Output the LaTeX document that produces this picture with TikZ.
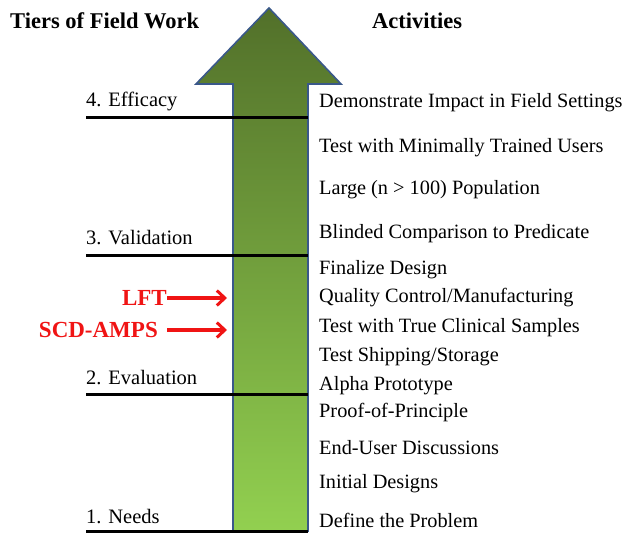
\documentclass[tikz,border=0pt]{standalone}
\usepackage{fontspec}
\setmainfont{Liberation Serif}
\usetikzlibrary{arrows.meta}
\definecolor{arrowtop}{RGB}{82,112,42}
\definecolor{arrowbot}{RGB}{146,208,80}
\definecolor{arrowrim}{RGB}{58,88,138}
\definecolor{tierred}{RGB}{240,20,20}
\tikzset{
	tier/.style={anchor=west, inner sep=0pt, font=\fontsize{20.5}{24}\selectfont},
	activity/.style={anchor=west, inner sep=0pt, font=\fontsize{20.3}{24}\selectfont},
	heading/.style={anchor=west, inner sep=0pt, font=\fontsize{22.5}{26}\selectfont\bfseries},
	study/.style={anchor=east, inner sep=0pt, text=tierred, font=\fontsize{23}{26}\selectfont\bfseries},
	tierline/.style={line width=3pt, black},
	studyarrow/.style={tierred, line width=3.4pt, -{Straight Barb[length=8pt, width=15pt, line width=3pt]}}
}
\begin{document}
\begin{tikzpicture}[x=1pt, y=-1pt]
				\useasboundingbox (0, 0) rectangle (631, 533);
				\fill [white] (0, 0) rectangle (631, 533);
				% big arrow
				\draw [arrowrim, line width=1.6pt, top color=arrowtop, bottom color=arrowbot]
					(233, 531) -- (233, 84) -- (196, 84) -- (269, 8) -- (341, 84) -- (308, 84) -- (308, 531) -- cycle;
				% headings
				\node [heading] (tiers) at (10, 21) {Tiers of Field Work};
				\node [heading] (acts) at (372, 21) {Activities};
				% tiers
				\node [tier] (efficacy) at (86, 101) {4. Efficacy};
				\node [tier] (validation) at (86, 238) {3. Validation};
				\node [tier] (evaluation) at (86, 378) {2. Evaluation};
				\node [tier] (needs) at (86, 517) {1. Needs};
				\coordinate (e1) at (86, 117);
				\coordinate (e2) at (308, 117);
				\coordinate (v1) at (86, 255);
				\coordinate (v2) at (308, 255);
				\coordinate (ev1) at (86, 394);
				\coordinate (ev2) at (308, 394);
				\coordinate (n1) at (86, 531);
				\coordinate (n2) at (308, 531);
				\draw [tierline] (e1) -- (e2);
				\draw [tierline] (v1) -- (v2);
				\draw [tierline] (ev1) -- (ev2);
				\draw [tierline] (n1) -- (n2);
				% activities
				\node [activity] (impact) at (319, 103) {Demonstrate Impact in Field Settings};
				\node [activity] (minimal) at (319, 148) {Test with Minimally Trained Users};
				\node [activity] (large) at (319, 190) {Large (n > 100) Population};
				\node [activity] (blinded) at (319, 234) {Blinded Comparison to Predicate};
				\node [activity] (finalize) at (319, 270) {Finalize Design};
				\node [activity] (quality) at (319, 298) {Quality Control/Manufacturing};
				\node [activity] (clinical) at (319, 328) {Test with True Clinical Samples};
				\node [activity] (shipping) at (319, 357) {Test Shipping/Storage};
				\node [activity] (alpha) at (319, 386) {Alpha Prototype};
				\node [activity] (proof) at (319, 413) {Proof-of-Principle};
				\node [activity] (enduser) at (319, 448) {End-User Discussions};
				\node [activity] (initial) at (319, 484) {Initial Designs};
				\node [activity] (define) at (319, 520) {Define the Problem};
				% studies
				\node [study] (lft) at (167, 298) {LFT};
				\node [study] (scd) at (158, 330) {SCD-AMPS};
				\coordinate (lfttip) at (227, 298);
				\coordinate (scdtip) at (227, 330);
				\draw [studyarrow] (lft.east) -- (lfttip);
				\draw [studyarrow] ([xshift=9pt]scd.east) -- (scdtip);
			\end{tikzpicture}
\end{document}
